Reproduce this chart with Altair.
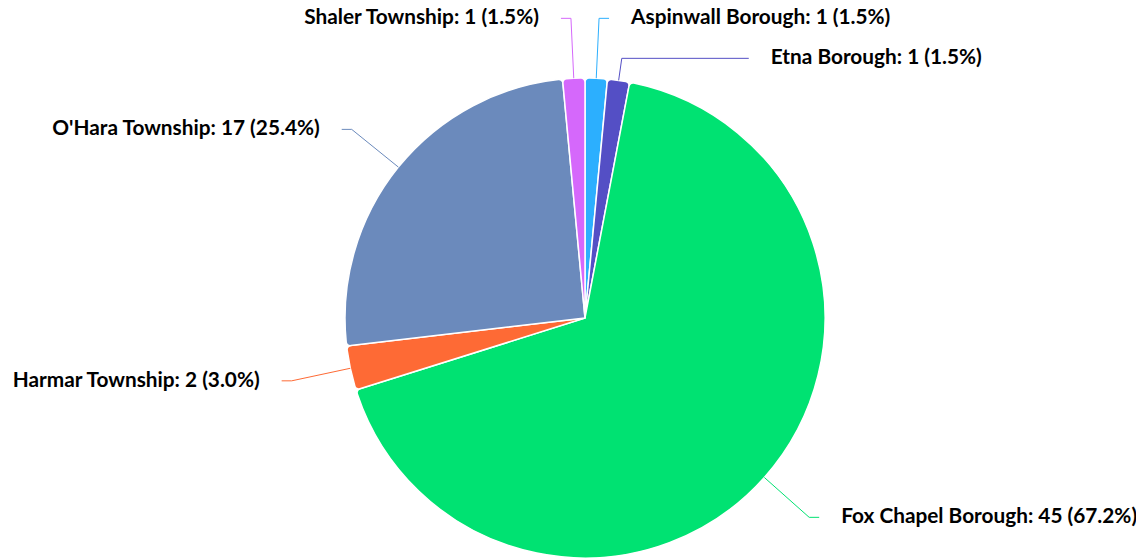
import math
import altair as alt
import pandas as pd

# ---- data ----
categories = ["Aspinwall Borough", "Etna Borough", "Fox Chapel Borough",
              "Harmar Township", "O'Hara Township", "Shaler Township"]
values = [1, 1, 45, 2, 17, 1]
colors = ["#2caffe", "#544fc5", "#00e272", "#fe6a35", "#6b8abc", "#d568fb"]

# ---- layout constants (pixels, chart coordinates) ----
W, H = 1128, 551
CX, CY, R = 577, 310, 240
RL = 300          # label radius
RC = 300          # circle used for label x
RC_PUSH = 307     # circle used for label x of pushed labels
SPACING = 40      # min vertical distance between labels on one side
TAIL = 10
TEXT_GAP = 22

total = sum(values)
labels = [f"{c}: {v} ({v / total * 100:.1f}%)" for c, v in zip(categories, values)]

# angles (clockwise from 12 o'clock)
mids = []
acc = 0.0
for v in values:
    a0 = acc / total * 2 * math.pi
    acc += v
    a1 = acc / total * 2 * math.pi
    mids.append((a0 + a1) / 2)

info = []
for i, a in enumerate(mids):
    side = 1 if math.sin(a) >= 0 else -1
    ny = CY - RL * math.cos(a)
    info.append({"i": i, "a": a, "side": side, "ny": ny})

# resolve collisions per side (push down)
for s in (1, -1):
    grp = sorted([d for d in info if d["side"] == s], key=lambda d: d["ny"])
    prev = None
    for d in grp:
        y = d["ny"] if prev is None else max(d["ny"], prev + SPACING)
        d["ly"] = y
        prev = y

line_rows, text_rows = [], []
for d in info:
    i, a, s, ly = d["i"], d["a"], d["side"], d["ly"]
    ex, ey = CX + R * math.sin(a), CY - R * math.cos(a)
    c = math.cos(a)
    t = RL
    pushed = abs(ly - d["ny"]) > 0.5
    if pushed and abs(c) > 1e-6:
        t = min(max((CY - ly) / c, R), RL)
    bx = CX + t * math.sin(a)
    rc = RC_PUSH if pushed else RC
    circ = math.sqrt(max(rc ** 2 - (ly - CY) ** 2, 0))
    if s > 0:
        lx = max(bx + TAIL, CX + circ)
        tx = lx + TEXT_GAP
    else:
        lx = min(bx - TAIL, CX - circ)
        tx = lx - TEXT_GAP
    for k, (px, py) in enumerate([(ex, ey), (bx, ly), (lx, ly)]):
        line_rows.append({"category": categories[i], "k": k, "px": px, "py": py})
    text_rows.append({"category": categories[i], "label": labels[i], "px": tx, "py": ly,
                      "side": "right" if s > 0 else "left"})

pie_df = pd.DataFrame({"category": categories, "value": values, "idx": list(range(len(values)))})
line_df = pd.DataFrame(line_rows)
text_df = pd.DataFrame(text_rows)

color = alt.Color("category:N", scale=alt.Scale(domain=categories, range=colors), legend=None)
xs = alt.Scale(domain=[0, W], range=[0, W], nice=False, zero=False)
ys = alt.Scale(domain=[0, H], range=[0, H], nice=False, zero=False)

arcs = alt.Chart(pie_df).mark_arc(
    outerRadius=R, cornerRadius=4, stroke="white", strokeWidth=1.5
).encode(
    theta=alt.Theta("value:Q", stack=True),
    order=alt.Order("idx:Q", sort="ascending"),
    color=color,
    x=alt.value(CX), y=alt.value(CY),
)

lines = alt.Chart(line_df).mark_line(strokeWidth=1).encode(
    x=alt.X("px:Q", scale=xs, axis=None),
    y=alt.Y("py:Q", scale=ys, axis=None),
    detail="category:N",
    order="k:Q",
    color=color,
)

text_style = dict(baseline="middle", font="Lato", fontSize=20.8, fontWeight="bold", color="#000000")
text_right = alt.Chart(text_df).transform_filter(alt.datum.side == "right").mark_text(
    align="left", **text_style
).encode(x=alt.X("px:Q", scale=xs, axis=None), y=alt.Y("py:Q", scale=ys, axis=None), text="label:N")
text_left = alt.Chart(text_df).transform_filter(alt.datum.side == "left").mark_text(
    align="right", **text_style
).encode(x=alt.X("px:Q", scale=xs, axis=None), y=alt.Y("py:Q", scale=ys, axis=None), text="label:N")

chart = alt.layer(arcs, lines, text_left, text_right).properties(
    width=W, height=H, padding=0, autosize=alt.AutoSizeParams(type="none")
).configure_view(stroke=None)

chart.save("out.html", embed_options={"renderer": "svg", "actions": False})
